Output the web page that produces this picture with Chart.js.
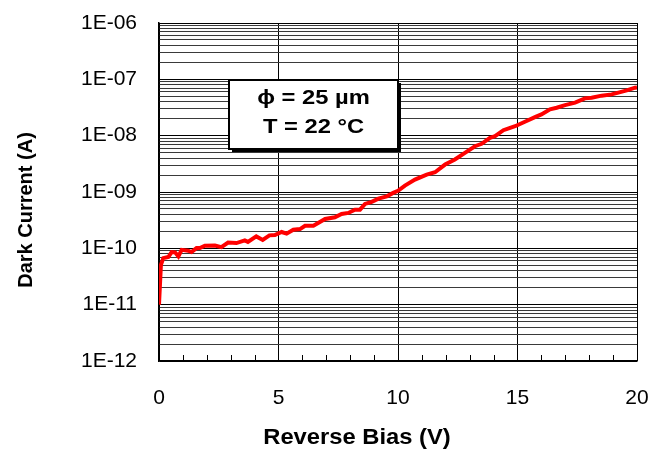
<!DOCTYPE html>
<html>
<head>
<meta charset="utf-8">
<script src="https://cdn.jsdelivr.net/npm/chart.js@4/dist/chart.umd.min.js"></script>
<style>
  html, body { margin: 0; padding: 0; background: #fff; }
</style>
</head>
<body>
<canvas id="chart" width="649" height="453"></canvas>
<script>
// values
const biasVolts = [
  0, 0.08, 0.18, 0.39, 0.53, 0.67, 0.81, 0.95, 1.22, 1.36,
  1.57, 1.71, 1.92, 2.34, 2.61, 2.89, 3.24, 3.59, 3.72, 4.07,
  4.34, 4.62, 4.85, 5.13, 5.34, 5.62, 5.9, 6.11, 6.46, 6.95,
  7.36, 7.64, 7.92, 8.2, 8.41, 8.62, 8.9, 9.18, 9.53, 9.8,
  10.0, 10.29, 10.71, 11.2, 11.55, 11.97, 12.38, 12.8, 13.22, 13.5,
  13.85, 14.06, 14.41, 14.69, 14.9, 15.31, 15.73, 16.0, 16.36, 16.64,
  16.99, 17.41, 17.82, 18.1, 18.52, 18.94, 19.22, 19.57, 19.92, 20
];
const darkCurrent = [
  1.0e-11, 5.1e-11, 6.7e-11, 7.0e-11, 8.6e-11, 8.5e-11, 7.2e-11, 9.4e-11, 9.1e-11, 8.6e-11,
  1.01e-10, 1.01e-10, 1.11e-10, 1.12e-10, 1.05e-10, 1.27e-10, 1.24e-10, 1.38e-10, 1.30e-10, 1.63e-10,
  1.41e-10, 1.70e-10, 1.72e-10, 1.95e-10, 1.82e-10, 2.14e-10, 2.2e-10, 2.52e-10, 2.52e-10, 3.32e-10,
  3.55e-10, 4.07e-10, 4.25e-10, 4.86e-10, 4.86e-10, 6.14e-10, 6.67e-10, 7.63e-10, 8.38e-10, 9.64e-10,
  1.05e-9, 1.30e-9, 1.66e-9, 2.04e-9, 2.24e-9, 3.07e-9, 3.77e-9, 4.96e-9, 6.5e-9, 7.18e-9,
  9.18e-9, 9.8e-9, 1.25e-8, 1.38e-8, 1.47e-8, 1.77e-8, 2.13e-8, 2.38e-8, 2.93e-8, 3.13e-8,
  3.49e-8, 3.85e-8, 4.59e-8, 4.72e-8, 5.13e-8, 5.41e-8, 5.8e-8, 6.37e-8, 7.11e-8, 7.2e-8
];
const xTickValues = [0, 5, 10, 15, 20];
const xTickLabels = ['0', '5', '10', '15', '20'];
const yDecades = [1e-12, 1e-11, 1e-10, 1e-9, 1e-8, 1e-7, 1e-6];
const yTickLabels = ['1E-12', '1E-11', '1E-10', '1E-09', '1E-08', '1E-07', '1E-06'];
const noteLines = ['\u03D5 = 25 µm', 'T = 22 °C'];
const xTitle = 'Reverse Bias (V)';
const yTitle = 'Dark Current (A)';

const FONT = "'Liberation Sans', Arial, sans-serif";

function decadeIndex(v) {
  return yDecades.findIndex(d => Math.abs(d - v) / d < 1e-6);
}

// small upward ticks on the x axis, axis titles, note box
const extras = {
  id: 'extras',
  beforeDatasetsDraw(chart) {
    const { ctx, chartArea, scales } = chart;
    ctx.save();
    ctx.strokeStyle = '#000';
    ctx.lineWidth = 1;
    for (let v = 1; v < 20; v++) {
      if (xTickValues.includes(v)) continue;
      const px = Math.round(scales.x.getPixelForValue(v)) + 0.5;
      ctx.beginPath();
      ctx.moveTo(px, chartArea.bottom);
      ctx.lineTo(px, chartArea.bottom - 6);
      ctx.stroke();
    }
    ctx.restore();
  },
  afterDatasetsDraw(chart) {
    const { ctx, chartArea, scales } = chart;
    ctx.save();
    // note box
    const x0 = Math.round(scales.x.getPixelForValue(2.93));
    const x1 = Math.round(scales.x.getPixelForValue(10.02));
    const y0 = Math.round(scales.y.getPixelForValue(9.7e-8));
    const y1 = Math.round(scales.y.getPixelForValue(5.7e-9));
    ctx.fillStyle = '#000';
    ctx.fillRect(x0 + 3, y0 + 3, x1 - x0, y1 - y0);
    ctx.fillStyle = '#fff';
    ctx.fillRect(x0, y0, x1 - x0, y1 - y0);
    ctx.strokeStyle = '#000';
    ctx.lineWidth = 2;
    ctx.strokeRect(x0, y0, x1 - x0, y1 - y0);
    ctx.fillStyle = '#000';
    ctx.font = 'bold 21px ' + FONT;
    ctx.textAlign = 'center';
    ctx.textBaseline = 'middle';
    const cx = (x0 + x1) / 2;
    noteLines.forEach((line, i) => {
      ctx.save();
      ctx.translate(cx, y0 + 18 + i * 29);
      ctx.scale(1.13, 1);
      ctx.fillText(line, 0, 0);
      ctx.restore();
    });
    // x axis title (sits left of the plot centre in the original)
    ctx.save();
    ctx.translate(chartArea.left + 198, chart.height - 15);
    ctx.scale(1.08, 1);
    ctx.font = 'bold 22px ' + FONT;
    ctx.fillText(xTitle, 0, 0);
    ctx.restore();
    // y axis title
    ctx.translate(26, (chartArea.top + chartArea.bottom) / 2 + 18);
    ctx.rotate(-Math.PI / 2);
    ctx.font = 'bold 20px ' + FONT;
    ctx.fillText(yTitle, 0, 0);
    ctx.restore();
  }
};

new Chart(document.getElementById('chart'), {
  type: 'line',
  data: {
    datasets: [{
      data: biasVolts.map((v, i) => ({ x: v, y: darkCurrent[i] })),
      borderColor: '#ff0000',
      borderWidth: 4,
      pointRadius: 0,
      tension: 0,
      fill: false
    }]
  },
  options: {
    responsive: false,
    animation: false,
    devicePixelRatio: 1,
    layout: { padding: { top: 23, right: 12, left: 0, bottom: 0 } },
    plugins: { legend: { display: false }, tooltip: { enabled: false } },
    scales: {
      x: {
        type: 'linear',
        min: 0,
        max: 20,
        afterFit(scale) {
          scale.height = 92;
          scale.paddingLeft = 0;
          scale.paddingRight = 0;
        },
        ticks: {
          stepSize: 1,
          autoSkip: false,
          maxRotation: 0,
          padding: 25,
          color: '#000',
          font: { family: FONT, size: 21 },
          callback(value) {
            const i = xTickValues.indexOf(value);
            return i >= 0 ? xTickLabels[i] : '';
          }
        },
        grid: {
          drawTicks: false,
          lineWidth: 1,
          color(ctx) {
            return ctx.tick && xTickValues.includes(ctx.tick.value) ? '#000' : 'rgba(0,0,0,0)';
          }
        },
        border: { display: true, color: '#000', width: 1.5 },
        title: { display: false }
      },
      y: {
        type: 'logarithmic',
        min: 1e-12,
        max: 1e-6,
        afterFit(scale) {
          scale.width = 159;
          scale.paddingTop = 0;
          scale.paddingBottom = 0;
        },
        afterBuildTicks(scale) {
          const ticks = [];
          yDecades.forEach((d, i) => {
            ticks.push({ value: d, major: true });
            if (i < yDecades.length - 1) {
              for (let m = 2; m <= 9; m++) ticks.push({ value: d * m });
            }
          });
          scale.ticks = ticks;
        },
        ticks: {
          autoSkip: false,
          padding: 22,
          color: '#000',
          font: { family: FONT, size: 21 },
          callback(value) {
            const i = decadeIndex(value);
            return i >= 0 ? yTickLabels[i] : '';
          }
        },
        grid: {
          drawTicks: false,
          lineWidth: 1,
          color(ctx) {
            return ctx.tick && decadeIndex(ctx.tick.value) >= 0 ? '#000' : '#3a3a3a';
          }
        },
        border: { display: true, color: '#000', width: 1.5 }
      }
    }
  },
  plugins: [extras]
});
</script>
</body>
</html>
